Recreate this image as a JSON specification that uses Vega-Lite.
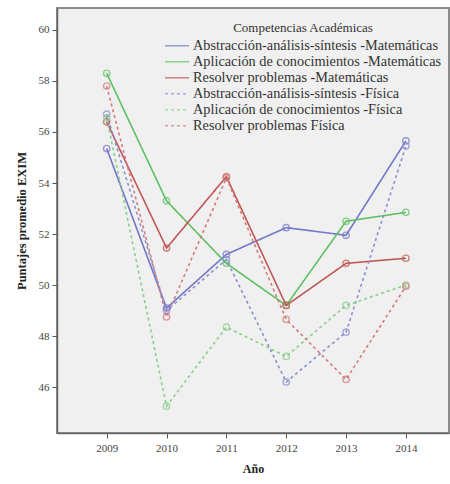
{
  "$schema": "https://vega.github.io/schema/vega-lite/v6.json",
  "autosize": {"type": "none"},
  "width": 392,
  "height": 425,
  "padding": {"left": 57, "top": 8, "right": 1, "bottom": 51},
  "background": "#ffffff",
  "config": {
    "view": {"fill": "#f0f0f0", "stroke": "#8c8c8c", "strokeWidth": 2},
    "font": "Liberation Serif"
  },
  "data": {"values": [
    {"s": "Abstracción-análisis-síntesis -Matemáticas", "y": 2009, "v": 55.35},
    {"s": "Abstracción-análisis-síntesis -Matemáticas", "y": 2010, "v": 49.1},
    {"s": "Abstracción-análisis-síntesis -Matemáticas", "y": 2011, "v": 51.2},
    {"s": "Abstracción-análisis-síntesis -Matemáticas", "y": 2012, "v": 52.25},
    {"s": "Abstracción-análisis-síntesis -Matemáticas", "y": 2013, "v": 51.95},
    {"s": "Abstracción-análisis-síntesis -Matemáticas", "y": 2014, "v": 55.65},
    {"s": "Aplicación de conocimientos -Matemáticas", "y": 2009, "v": 58.3},
    {"s": "Aplicación de conocimientos -Matemáticas", "y": 2010, "v": 53.3},
    {"s": "Aplicación de conocimientos -Matemáticas", "y": 2011, "v": 50.85},
    {"s": "Aplicación de conocimientos -Matemáticas", "y": 2012, "v": 49.2},
    {"s": "Aplicación de conocimientos -Matemáticas", "y": 2013, "v": 52.5},
    {"s": "Aplicación de conocimientos -Matemáticas", "y": 2014, "v": 52.85},
    {"s": "Resolver problemas -Matemáticas", "y": 2009, "v": 56.4},
    {"s": "Resolver problemas -Matemáticas", "y": 2010, "v": 51.45},
    {"s": "Resolver problemas -Matemáticas", "y": 2011, "v": 54.25},
    {"s": "Resolver problemas -Matemáticas", "y": 2012, "v": 49.2},
    {"s": "Resolver problemas -Matemáticas", "y": 2013, "v": 50.85},
    {"s": "Resolver problemas -Matemáticas", "y": 2014, "v": 51.05},
    {"s": "Abstracción-análisis-síntesis -Física", "y": 2009, "v": 56.7},
    {"s": "Abstracción-análisis-síntesis -Física", "y": 2010, "v": 49.0},
    {"s": "Abstracción-análisis-síntesis -Física", "y": 2011, "v": 51.0},
    {"s": "Abstracción-análisis-síntesis -Física", "y": 2012, "v": 46.2},
    {"s": "Abstracción-análisis-síntesis -Física", "y": 2013, "v": 48.15},
    {"s": "Abstracción-análisis-síntesis -Física", "y": 2014, "v": 55.45},
    {"s": "Aplicación de conocimientos -Física", "y": 2009, "v": 56.55},
    {"s": "Aplicación de conocimientos -Física", "y": 2010, "v": 45.25},
    {"s": "Aplicación de conocimientos -Física", "y": 2011, "v": 48.35},
    {"s": "Aplicación de conocimientos -Física", "y": 2012, "v": 47.2},
    {"s": "Aplicación de conocimientos -Física", "y": 2013, "v": 49.2},
    {"s": "Aplicación de conocimientos -Física", "y": 2014, "v": 50.0},
    {"s": "Resolver problemas Física", "y": 2009, "v": 57.8},
    {"s": "Resolver problemas Física", "y": 2010, "v": 48.75},
    {"s": "Resolver problemas Física", "y": 2011, "v": 54.2},
    {"s": "Resolver problemas Física", "y": 2012, "v": 48.65},
    {"s": "Resolver problemas Física", "y": 2013, "v": 46.3},
    {"s": "Resolver problemas Física", "y": 2014, "v": 49.95}
  ]},
  "encoding": {
    "x": {
      "field": "y", "type": "quantitative",
      "scale": {"domain": [2008.17, 2014.72], "nice": false, "zero": false},
      "axis": {
        "values": [2009, 2010, 2011, 2012, 2013, 2014], "format": "d",
        "title": "Año", "titleFont": "Liberation Serif", "titleFontWeight": "bold", "titleFontSize": 12,
        "titleColor": "#222", "titlePadding": 10,
        "labelFont": "Liberation Serif", "labelFontSize": 11, "labelColor": "#444",
        "labelPadding": 4, "tickColor": "#555", "tickSize": 5,
        "domainColor": "#666", "domainWidth": 1.5, "grid": false
      }
    },
    "y": {
      "field": "v", "type": "quantitative",
      "scale": {"domain": [44.2, 60.86], "nice": false, "zero": false},
      "axis": {
        "values": [46, 48, 50, 52, 54, 56, 58, 60],
        "title": "Puntajes promedio EXIM", "titleFont": "Liberation Serif", "titleFontWeight": "bold", "titleFontSize": 12.5,
        "titleColor": "#222", "titlePadding": 10,
        "labelFont": "Liberation Serif", "labelFontSize": 11, "labelColor": "#444",
        "labelPadding": 3, "tickColor": "#555", "tickSize": 5,
        "domainColor": "#666", "domainWidth": 1.5, "grid": false
      }
    },
    "color": {
      "field": "s", "type": "nominal",
      "title": "Competencias Académicas",
      "sort": ["Abstracción-análisis-síntesis -Matemáticas", "Aplicación de conocimientos -Matemáticas", "Resolver problemas -Matemáticas", "Abstracción-análisis-síntesis -Física", "Aplicación de conocimientos -Física", "Resolver problemas Física"],
      "scale": {
        "domain": ["Abstracción-análisis-síntesis -Matemáticas", "Aplicación de conocimientos -Matemáticas", "Resolver problemas -Matemáticas", "Abstracción-análisis-síntesis -Física", "Aplicación de conocimientos -Física", "Resolver problemas Física"],
        "range": ["#7276c6", "#5fc062", "#c05656", "#8a8ed2", "#88d08a", "#d47a7a"]
      },
      "legend": {
        "orient": "none", "legendX": 107, "legendY": 14,
        "titleAnchor": "middle", "titleFont": "Liberation Serif", "titleFontWeight": "normal",
        "titleFontSize": 13, "titleColor": "#333", "titlePadding": 3,
        "labelFont": "Liberation Serif", "labelFontSize": 14.3, "labelColor": "#333", "labelLimit": 400,
        "symbolType": "stroke", "symbolSize": 576, "symbolStrokeWidth": 1.6, "rowPadding": 0, "labelOffset": 3,
        "clipHeight": 15.6
      }
    }
  },
  "layer": [
    {
      "mark": {"type": "line", "strokeWidth": 1.6},
      "encoding": {
        "strokeDash": {
          "field": "s", "type": "nominal",
          "title": "Competencias Académicas",
          "sort": ["Abstracción-análisis-síntesis -Matemáticas", "Aplicación de conocimientos -Matemáticas", "Resolver problemas -Matemáticas", "Abstracción-análisis-síntesis -Física", "Aplicación de conocimientos -Física", "Resolver problemas Física"],
          "scale": {
            "domain": ["Abstracción-análisis-síntesis -Matemáticas", "Aplicación de conocimientos -Matemáticas", "Resolver problemas -Matemáticas", "Abstracción-análisis-síntesis -Física", "Aplicación de conocimientos -Física", "Resolver problemas Física"],
            "range": [[1, 0], [1, 0], [1, 0], [3, 3], [3, 3], [3, 3]]
          },
          "legend": {
            "orient": "none", "legendX": 107, "legendY": 14,
            "titleAnchor": "middle", "titleFont": "Liberation Serif", "titleFontWeight": "normal",
            "titleFontSize": 13, "titleColor": "#333", "titlePadding": 3,
            "labelFont": "Liberation Serif", "labelFontSize": 14.3, "labelColor": "#333", "labelLimit": 400,
            "symbolType": "stroke", "symbolSize": 576, "symbolStrokeWidth": 1.6, "rowPadding": 0, "labelOffset": 3,
            "clipHeight": 15.6
          }
        }
      }
    },
    {
      "mark": {"type": "point", "shape": "circle", "filled": false, "size": 40, "strokeWidth": 1.4}
    }
  ]
}
